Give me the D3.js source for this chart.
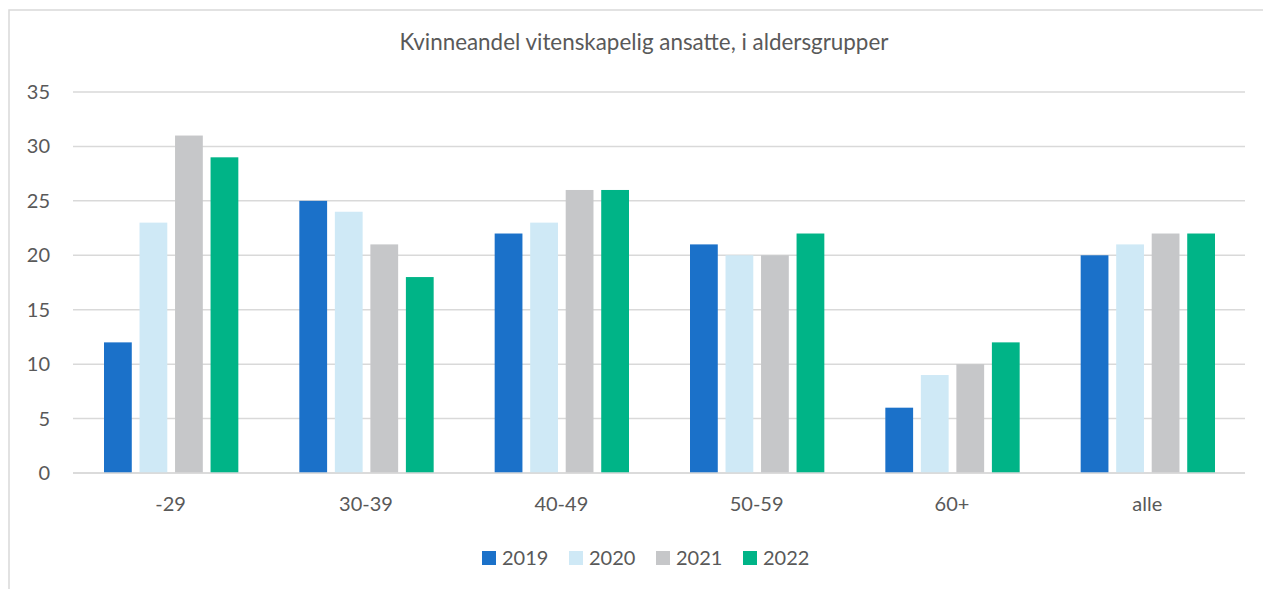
<!DOCTYPE html>
<html>
<head>
<meta charset="utf-8">
<script src="https://cdn.jsdelivr.net/npm/d3@7"></script>
<style>
  body { margin: 0; background: #fff; }
  svg text { font-family: Lato, "Open Sans", sans-serif; fill: #595959; }
</style>
</head>
<body>
<svg id="chart"></svg>
<script>
// DATA
const categories = ["-29", "30-39", "40-49", "50-59", "60+", "alle"];
const years = ["2019", "2020", "2021", "2022"];
const v2019 = [12, 25, 22, 21, 6, 20];
const v2020 = [23, 24, 23, 20, 9, 21];
const v2021 = [31, 21, 26, 20, 10, 22];
const v2022 = [29, 18, 26, 22, 12, 22];
const yTicks = [0, 5, 10, 15, 20, 25, 30, 35];
const colors = ["#1b71c9", "#cfe9f6", "#c6c7c9", "#00b487"];

const series = [v2019, v2020, v2021, v2022];

const width = 1263, height = 589;
const svg = d3.select("#chart").attr("width", width).attr("height", height);

// frame
svg.append("rect")
  .attr("x", 9).attr("y", 10)
  .attr("width", 1270).attr("height", 600)
  .attr("fill", "none").attr("stroke", "#d9d9d9").attr("stroke-width", 1.5);

// scales
const x = d3.scaleBand().domain(categories).range([73, 1245]);
const bw = x.bandwidth();
const xi = d3.scaleBand().domain(years).range([31, bw - 30]).paddingInner(0.218);
const y = d3.scaleLinear().domain([0, 35]).range([473, 92]);

// gridlines
svg.append("g").selectAll("line")
  .data(yTicks)
  .join("line")
  .attr("x1", 73).attr("x2", 1245)
  .attr("y1", d => y(d)).attr("y2", d => y(d))
  .attr("stroke", "#d9d9d9").attr("stroke-width", 1.5);

// y labels
svg.append("g").selectAll("text")
  .data(yTicks)
  .join("text")
  .attr("x", 50).attr("y", d => y(d) + 7)
  .attr("text-anchor", "end")
  .attr("font-size", 20)
  .text(d => d);

// bars
years.forEach((yr, i) => {
  svg.append("g").selectAll("rect")
    .data(categories)
    .join("rect")
    .attr("x", (c) => x(c) + xi(yr))
    .attr("width", xi.bandwidth())
    .attr("y", (c, j) => y(series[i][j]))
    .attr("height", (c, j) => y(0) - y(series[i][j]))
    .attr("fill", colors[i]);
});

// baseline
svg.append("line")
  .attr("x1", 73).attr("x2", 1245)
  .attr("y1", y(0)).attr("y2", y(0))
  .attr("stroke", "#d9d9d9").attr("stroke-width", 1.5);

// x labels
svg.append("g").selectAll("text")
  .data(categories)
  .join("text")
  .attr("x", d => x(d) + bw / 2)
  .attr("y", 511)
  .attr("text-anchor", "middle")
  .attr("font-size", 20)
  .text(d => d);

// title
svg.append("text")
  .attr("x", 644).attr("y", 50)
  .attr("text-anchor", "middle")
  .attr("font-size", 22.4)
  .text("Kvinneandel vitenskapelig ansatte, i aldersgrupper");

// legend
const lg = svg.append("g").selectAll("g")
  .data(years)
  .join("g")
  .attr("transform", (d, i) => `translate(${482 + i * 87}, 551)`);
lg.append("rect").attr("width", 14).attr("height", 14).attr("fill", (d, i) => colors[i]);
lg.append("text").attr("x", 20).attr("y", 14).attr("font-size", 20).text(d => d);
</script>
</body>
</html>
